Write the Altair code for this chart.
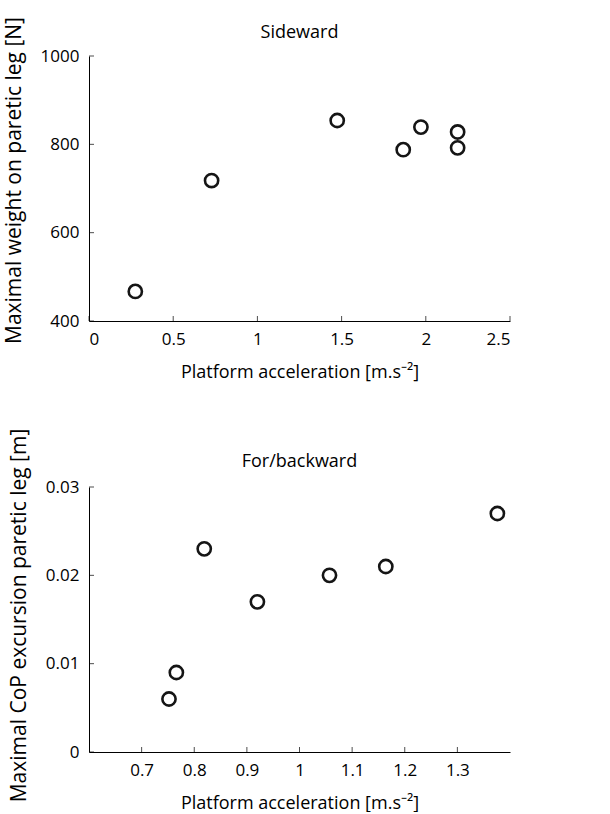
import altair as alt
import pandas as pd

# Sideward panel
side_acc = [0.275, 0.728, 1.474, 1.866, 1.971, 2.189, 2.189]
side_weight = [467, 718, 854, 788, 839, 828, 792]
side_xticks = [0, 0.5, 1, 1.5, 2, 2.5]
side_yticks = [400, 600, 800, 1000]

# For/backward panel
fb_acc = [0.752, 0.766, 0.819, 0.920, 1.057, 1.164, 1.376]
fb_cop = [0.006, 0.009, 0.023, 0.017, 0.020, 0.021, 0.027]
fb_xticks = [0.7, 0.8, 0.9, 1.0, 1.1, 1.2, 1.3]
fb_yticks = [0, 0.01, 0.02, 0.03]

XTITLE = "Platform acceleration [m.s⁻²]"
FONT = "Open Sans"
W, H = 421, 265


def panel(xv, yv, xticks, yticks, xdom, ydom, title, ytitle, title_dy, ytitle_y):
    xs = alt.Scale(domain=xdom, nice=False, zero=False)
    ys = alt.Scale(domain=ydom, nice=False, zero=False)
    xaxis = alt.Axis(values=xticks, format="~r", title=XTITLE)
    yaxis = alt.Axis(values=yticks, format="~r", title=ytitle, titleY=ytitle_y)

    pts = alt.Chart(pd.DataFrame({"x": xv, "y": yv})).mark_point(
        shape="circle", filled=False, size=175, strokeWidth=2.6,
        color="#151515", opacity=1
    ).encode(
        x=alt.X("x:Q", scale=xs, axis=xaxis),
        y=alt.Y("y:Q", scale=ys, axis=yaxis),
    )
    xt = alt.Chart(pd.DataFrame({"x": xticks, "y": [ydom[0]] * len(xticks)})).mark_tick(
        orient="vertical", size=5, thickness=1, color="black", yOffset=-2.5
    ).encode(
        x=alt.X("x:Q", scale=xs, axis=xaxis),
        y=alt.Y("y:Q", scale=ys, axis=yaxis),
    )
    yt = alt.Chart(pd.DataFrame({"y": yticks, "x": [xdom[0]] * len(yticks)})).mark_tick(
        orient="horizontal", size=5, thickness=1, color="black", xOffset=2.5
    ).encode(
        x=alt.X("x:Q", scale=xs, axis=xaxis),
        y=alt.Y("y:Q", scale=ys, axis=yaxis),
    )
    ttl = alt.Chart(pd.DataFrame({"t": [title]})).mark_text(
        font=FONT, fontSize=18, color="black", align="center", baseline="middle"
    ).encode(text="t:N", x=alt.value(W / 2), y=alt.value(title_dy))
    return alt.layer(xt, yt, pts, ttl).properties(width=W, height=H)


top = panel(side_acc, side_weight, side_xticks, side_yticks, [0, 2.5], [400, 1000],
            "Sideward", "Maximal weight on paretic leg [N]", -23, 124)
bottom = panel(fb_acc, fb_cop, fb_xticks, fb_yticks, [0.6, 1.4], [0, 0.03],
               "For/backward", "Maximal CoP excursion paretic leg [m]", -25, 128)

chart = alt.vconcat(top, bottom, spacing=47).properties(
    padding={"left": 3, "top": 16, "right": 10, "bottom": 0}
).configure_view(stroke=None).configure_axis(
    grid=False, ticks=False, domainColor="black", domainWidth=1,
    labelFont=FONT, labelFontSize=17, labelColor="black", labelPadding=10,
    titleFont=FONT, titleFontSize=18, titleFontWeight="normal", titleColor="black",
    titlePadding=16,
).configure_axisY(titlePadding=16, titleFontSize=21)

chart.save("out.html", embed_options={"renderer": "svg", "actions": False})
